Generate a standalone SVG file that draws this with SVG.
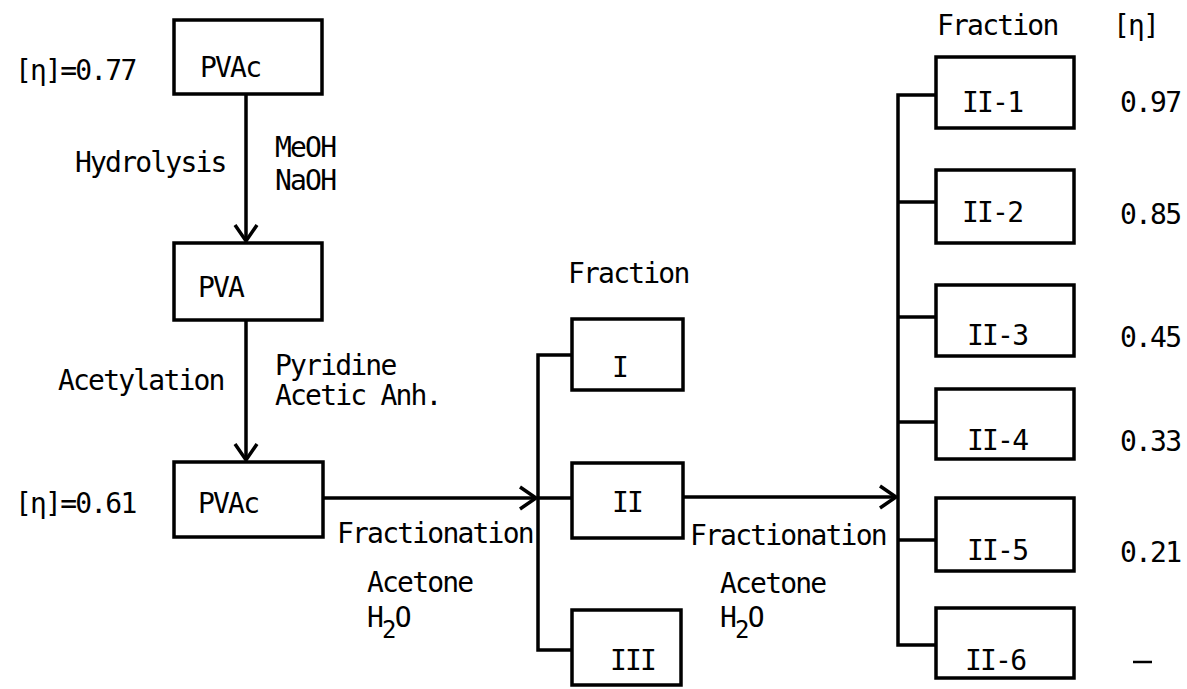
<svg xmlns="http://www.w3.org/2000/svg" width="1187" height="689" viewBox="0 0 1187 689">
<style>
text{font-family:"DejaVu Sans Mono","Liberation Mono",monospace;font-size:28px;letter-spacing:-1.8px;fill:#000}
.box{fill:#fff;stroke:#000;stroke-width:3.5}
.ln{stroke:#000;stroke-width:3.5;fill:none}
</style>
<defs>
<marker id="arr" viewBox="-20 -14 24 28" markerWidth="24" markerHeight="28" refX="0" refY="0" orient="auto" markerUnits="userSpaceOnUse">
<path d="M -16 -11 L 0 0 L -16 11" fill="none" stroke="#000" stroke-width="3.5"/>
</marker>
</defs>
<rect width="1187" height="689" fill="#fff"/>
<g id="connectors">
<line class="ln" x1="246" y1="94" x2="246" y2="241" marker-end="url(#arr)"/>
<line class="ln" x1="246" y1="320" x2="246" y2="460" marker-end="url(#arr)"/>
<line class="ln" x1="323" y1="498" x2="536" y2="498" marker-end="url(#arr)"/>
<polyline class="ln" points="572,355 538,355 538,650 572,650"/>
<line class="ln" x1="538" y1="498" x2="572" y2="498"/>
<line class="ln" x1="683" y1="497" x2="896" y2="497" marker-end="url(#arr)"/>
<polyline class="ln" points="936,95 898,95 898,645 936,645"/>
<line class="ln" x1="898" y1="202" x2="936" y2="202"/>
<line class="ln" x1="898" y1="317" x2="936" y2="317"/>
<line class="ln" x1="898" y1="422" x2="936" y2="422"/>
<line class="ln" x1="898" y1="540" x2="936" y2="540"/>
</g>
<g id="labels">
<text x="15" y="80">[η]=0.77</text>
<text x="15" y="513">[η]=0.61</text>
<text x="75" y="172">Hydrolysis</text>
<text x="275" y="157">MeOH</text>
<text x="275" y="190">NaOH</text>
<text x="58" y="390">Acetylation</text>
<text x="275" y="375">Pyridine</text>
<text x="275" y="405">Acetic Anh.</text>
<text x="337" y="543">Fractionation</text>
<text x="367" y="592">Acetone</text>
<text x="367" y="627">H<tspan dy="11" font-size="24">2</tspan><tspan dy="-11">O</tspan></text>
<text x="568" y="283">Fraction</text>
<text x="690" y="545">Fractionation</text>
<text x="720" y="593">Acetone</text>
<text x="720" y="627">H<tspan dy="11" font-size="24">2</tspan><tspan dy="-11">O</tspan></text>
<text x="937" y="35">Fraction</text>
<text x="1113" y="35">[η]</text>
<text x="1120" y="112">0.97</text>
<text x="1120" y="224">0.85</text>
<text x="1120" y="347">0.45</text>
<text x="1120" y="451">0.33</text>
<text x="1120" y="562">0.21</text>
<line x1="1133" y1="662" x2="1152" y2="662" stroke="#000" stroke-width="2.5"/>
</g>
<g id="node-pvac1"><rect class="box" x="174" y="20" width="148" height="74"/><text x="200" y="77">PVAc</text></g>
<g id="node-pva"><rect class="box" x="174" y="243" width="148" height="77"/><text x="198" y="297">PVA</text></g>
<g id="node-pvac2"><rect class="box" x="174" y="462" width="149" height="75"/><text x="198" y="513">PVAc</text></g>
<g id="node-I"><rect class="box" x="572" y="319" width="111" height="71"/><text x="612" y="377">I</text></g>
<g id="node-II"><rect class="box" x="572" y="463" width="111" height="75"/><text x="612" y="512">II</text></g>
<g id="node-III"><rect class="box" x="572" y="610" width="109" height="75"/><text x="610" y="670">III</text></g>
<g id="node-II-1"><rect class="box" x="936" y="57" width="138" height="71"/><text x="962" y="112">II-1</text></g>
<g id="node-II-2"><rect class="box" x="936" y="170" width="138" height="73"/><text x="962" y="222">II-2</text></g>
<g id="node-II-3"><rect class="box" x="936" y="285" width="138" height="71"/><text x="967" y="345">II-3</text></g>
<g id="node-II-4"><rect class="box" x="936" y="389" width="138" height="70"/><text x="967" y="450">II-4</text></g>
<g id="node-II-5"><rect class="box" x="936" y="498" width="138" height="73"/><text x="967" y="560">II-5</text></g>
<g id="node-II-6"><rect class="box" x="936" y="608" width="138" height="70"/><text x="965" y="670">II-6</text></g>
</svg>
